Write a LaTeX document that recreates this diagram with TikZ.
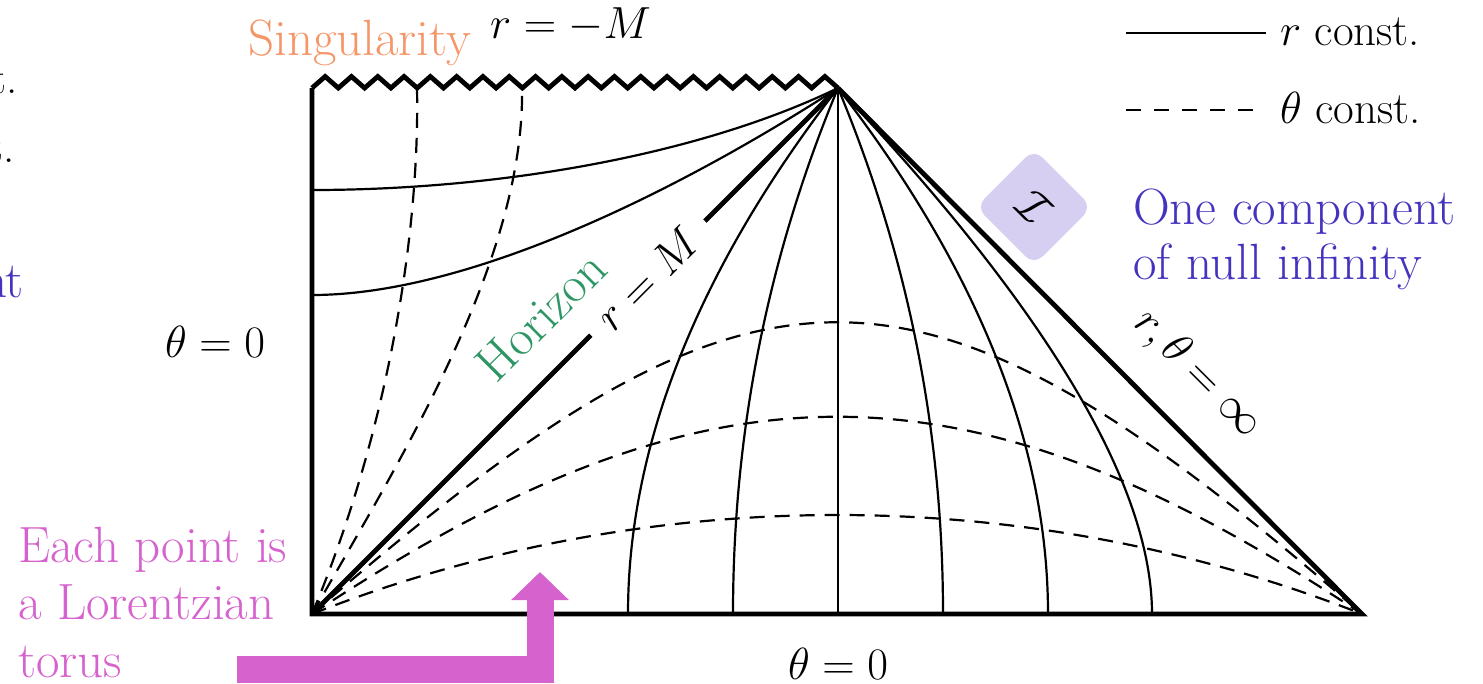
\RequirePackage{fix-cm}
\documentclass[tikz,border=0pt]{standalone}
\usetikzlibrary{arrows.meta,calc}
\definecolor{singc}{RGB}{245,150,105}
\definecolor{horc}{RGB}{46,150,100}
\definecolor{scric}{RGB}{68,51,190}
\definecolor{torc}{RGB}{214,98,206}
\definecolor{diac}{RGB}{214,207,242}
\begin{document}
\begin{tikzpicture}[x=1pt,y=-1pt,
  thinl/.style={line width=2.2pt},
  thickl/.style={line width=4.8pt},
  dashl/.style={line width=2.2pt, dash pattern=on 15pt off 10pt},
  lbl/.style={font=\fontsize{45}{55}\selectfont, inner sep=0pt},
  clbl/.style={font=\fontsize{51}{57}\selectfont, inner sep=0pt},
]
\useasboundingbox (0,0) rectangle (1483,683);

\coordinate (BL) at (312,614);
\coordinate (TL) at (312,88);
\coordinate (AP) at (838,88);
\coordinate (BR) at (1362,614);

% singularity zigzag
\draw[thickl, line join=miter] (TL)
  \foreach \k in {0,...,19} { -- ({312+26.3*\k+13.15},76.5) -- ({312+26.3*(\k+1)},88) };

% boundary
\draw[thickl, line join=miter] (TL) -- (BL) -- (BR) -- (AP);

% horizon
\draw[thickl] (BL) -- ($(BL)!0.53!(AP)$);
\draw[thickl] ($(BL)!0.747!(AP)$) -- (AP);
\node[lbl, rotate=45] (rM) at ($(BL)!0.638!(AP)$) {$r=M$};
\node[clbl, text=horc, rotate=45] (hor) at (541,316) {Horizon};

% interior r const
\draw[thinl] (312,190) .. controls (500,190) and (700,155) .. (AP);
\draw[thinl] (312,295) .. controls (470,295) and (680,190) .. (AP);

% interior theta const
\draw[dashl] (BL) .. controls (385,440) and (420,240) .. (417,88);
\draw[dashl] (BL) .. controls (400,460) and (525,260) .. (522,88);

% exterior r const
\draw[thinl] (AP) -- (838,614);
\draw[thinl] (AP) .. controls (768,256) and (733,431) .. (733,614);
\draw[thinl] (AP) .. controls (698,269) and (628,445) .. (628,614);
\draw[thinl] (AP) .. controls (908,256) and (943,431) .. (943,614);
\draw[thinl] (AP) .. controls (978,269) and (1048,445) .. (1048,614);
\draw[thinl] (AP) .. controls (1047,309) and (1152,485) .. (1152,614);

% exterior theta const
\draw[dashl] (BL) .. controls (647,482) and (1027,482) .. (BR);
\draw[dashl] (BL) .. controls (709,351) and (965,351) .. (BR);
\draw[dashl] (BL) .. controls (760,225) and (914,225) .. (BR);

% labels
\node[clbl, text=singc, anchor=base west] (sing) at (248,55) {Singularity};
\node[lbl, anchor=base west] (rmM) at (490,38) {$r=-M$};
\node[lbl, anchor=base west] (th0l) at (165,357) {$\theta=0$};
\node[lbl, anchor=base west] (th0b) at (788,679) {$\theta=0$};
\node[lbl, rotate=-45] (inf) at (1198,374) {$r,\theta=\infty$};

% scri
\node[fill=diac, rounded corners=12pt, minimum size=82pt, rotate=45, inner sep=0pt] (scri) at (1034,207) {};
\node[lbl, rotate=-45] (scriI) at (scri) {$\mathcal{I}$};
\node[clbl, text=scric, anchor=base west] (sc1) at (1133,224) {One component};
\node[clbl, text=scric, anchor=base west] (sc2) at (1133,279) {of null infinity};

% legend
\coordinate (l1a) at (1126,33);
\coordinate (l1b) at (1266,33);
\draw[thinl] (l1a) -- (l1b);
\node[lbl, anchor=base west] (l1t) at (1280,45) {$r$ const.};
\coordinate (l2a) at (1126,110);
\coordinate (l2b) at (1253,110);
\draw[thinl, dash pattern=on 15pt off 13pt] (l2a) -- (l2b);
\node[lbl, anchor=base west] (l2t) at (1280,123) {$\theta$ const.};

% cut-off fragments at the left edge
\node[lbl, anchor=base east] (f1) at (18,93) {t.};
\node[lbl, anchor=base east] (f2) at (15,162) {t.};
\node[clbl, text=scric, anchor=base east] (f3) at (24,297) {nt};

% torus label and arrow
\node[clbl, text=torc, anchor=base west] (tor1) at (18,562) {Each point is};
\node[clbl, text=torc, anchor=base west] (tor2) at (18,619) {a Lorentzian};
\node[clbl, text=torc, anchor=base west] (tor3) at (18,677) {torus};
\coordinate (arrstart) at (237,669);
\coordinate (arrbend) at (540,669);
\coordinate (arrtip) at (540,572);
\draw[torc, line width=27pt, line join=miter, -{Triangle[length=28pt,width=56pt]}] (arrstart) -- (arrbend) -- (arrtip);
\end{tikzpicture}
\end{document}
